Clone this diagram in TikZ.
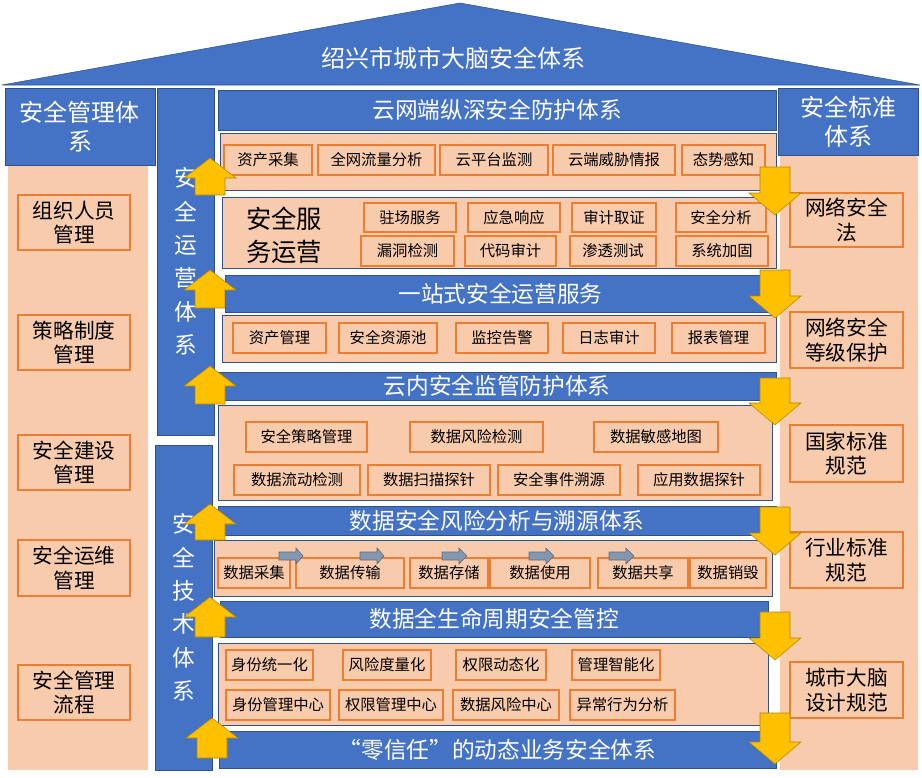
\documentclass[tikz,border=0pt]{standalone}
\usepackage{fontspec}
\setmainfont{Noto Sans CJK SC}
\definecolor{bandblue}{HTML}{4472C4}
\definecolor{panelsalmon}{HTML}{F8CBAD}
\definecolor{itemorange}{HTML}{ED7D31}
\definecolor{arrowyellow}{HTML}{FFC000}
\definecolor{flowgray}{HTML}{8497B0}
\tikzset{
  band/.style={draw=bandblue!70!black, fill=bandblue, text=white, font=\fontsize{17}{20}\selectfont},
  panel/.style={draw=bandblue!70!black, fill=panelsalmon},
  sidepanel/.style={fill=panelsalmon},
  item/.style={draw=itemorange, thick, fill=panelsalmon, font=\fontsize{11.5}{13}\selectfont},
  sideitem/.style={draw=itemorange, thick, fill=panelsalmon, font=\fontsize{15.5}{18.5}\selectfont, align=center},
  bigarrow/.style={draw=arrowyellow!70!black, fill=arrowyellow},
  flowarrow/.style={draw=flowgray!70!black, fill=flowgray}
}
% yellow block arrows: x centre, tip y, base y
\newcommand{\yup}[3]{\draw[bigarrow] (#1-15,#3) -- (#1-15,#2+20) -- (#1-26,#2+20) -- (#1,#2) -- (#1+26,#2+20) -- (#1+15,#2+20) -- (#1+15,#3) -- cycle;}
\newcommand{\ydown}[3]{\draw[bigarrow] (#1-15,#3) -- (#1-15,#2-22) -- (#1-26,#2-22) -- (#1,#2) -- (#1+26,#2-22) -- (#1+15,#2-22) -- (#1+15,#3) -- cycle;}
\newcommand{\gflow}[2]{\draw[flowarrow] (#1,552) -- (#1+17,552) -- (#1+17,548) -- (#2,556) -- (#1+17,564) -- (#1+17,560) -- (#1,560) -- cycle;}
\begin{document}
\begin{tikzpicture}[x=0.75pt,y=-0.75pt]
  \useasboundingbox (0,0) rectangle (922,778);

  % roof
  \draw[band] (2,85) -- (460,3) -- (920,85) -- cycle;
  \node[text=white, font=\fontsize{18}{21}\selectfont] (roof) at (453,58) {绍兴市城市大脑安全体系};

  % left column
  \fill[sidepanel] (8,165) rectangle (148,770);
  \draw[band] (5,88) rectangle (155,165) node[pos=.5, align=center, font=\fontsize{18}{22}\selectfont] (mgmt) {安全管理体\\系};
  \draw[sideitem] (18,195) rectangle (130,250) node[pos=.5] (m1) {组织人员\\管理};
  \draw[sideitem] (18,315) rectangle (130,370) node[pos=.5] (m2) {策略制度\\管理};
  \draw[sideitem] (18,435) rectangle (130,490) node[pos=.5] (m3) {安全建设\\管理};
  \draw[sideitem] (18,540) rectangle (130,596) node[pos=.5] (m4) {安全运维\\管理};
  \draw[sideitem] (18,665) rectangle (130,720) node[pos=.5] (m5) {安全管理\\流程};

  % right column
  \fill[sidepanel] (780,155) rectangle (918,770);
  \draw[band] (778,88) rectangle (918,155) node[pos=.5, align=center, font=\fontsize{18}{22}\selectfont] (std) {安全标准\\体系};
  \draw[sideitem] (790,193) rectangle (903,247) node[pos=.5] (s1) {网络安全\\法};
  \draw[sideitem] (790,312) rectangle (903,368) node[pos=.5] (s2) {网络安全\\等级保护};
  \draw[sideitem] (790,425) rectangle (903,482) node[pos=.5] (s3) {国家标准\\规范};
  \draw[sideitem] (790,532) rectangle (903,588) node[pos=.5] (s4) {行业标准\\规范};
  \draw[sideitem] (790,662) rectangle (903,718) node[pos=.5] (s5) {城市大脑\\设计规范};

  % vertical bands
  \draw[band] (157,88) rectangle (214,435) node[pos=.5, align=center, font=\fontsize{17}{25}\selectfont] (ops) {安\\全\\运\\营\\体\\系};
  \draw[band] (155,445) rectangle (212,770) node[pos=.5, align=center, font=\fontsize{17}{25}\selectfont] (tech) {安\\全\\技\\术\\体\\系};

  % cloud-network-edge
  \draw[band] (218,90) rectangle (776,130) node[pos=.5] (b1) {云网端纵深安全防护体系};
  \draw[panel] (220,133) rectangle (776,190);
  \draw[item] (224,145) rectangle (312,175) node[pos=.5] {资产采集};
  \draw[item] (318,145) rectangle (435,175) node[pos=.5] {全网流量分析};
  \draw[item] (440,145) rectangle (548,175) node[pos=.5] {云平台监测};
  \draw[item] (553,145) rectangle (675,175) node[pos=.5] {云端威胁情报};
  \draw[item] (682,145) rectangle (765,175) node[pos=.5] {态势感知};

  \draw[panel] (222,197) rectangle (776,268);
  \node[font=\fontsize{19}{25}\selectfont, align=left] (svc) at (284,235) {安全服\\务运营};
  \draw[item] (364,203) rectangle (456,232) node[pos=.5] {驻场服务};
  \draw[item] (468,203) rectangle (560,232) node[pos=.5] {应急响应};
  \draw[item] (572,203) rectangle (656,232) node[pos=.5] {审计取证};
  \draw[item] (676,203) rectangle (766,232) node[pos=.5] {安全分析};
  \draw[item] (361,236) rectangle (454,266) node[pos=.5] {漏洞检测};
  \draw[item] (465,236) rectangle (556,266) node[pos=.5] {代码审计};
  \draw[item] (570,236) rectangle (656,266) node[pos=.5] {渗透测试};
  \draw[item] (676,236) rectangle (768,266) node[pos=.5] {系统加固};

  % one-stop operations
  \draw[band] (225,275) rectangle (776,312) node[pos=.5] (b2) {一站式安全运营服务};
  \draw[panel] (222,315) rectangle (776,362);
  \draw[item] (233,323) rectangle (326,353) node[pos=.5] {资产管理};
  \draw[item] (339,323) rectangle (437,353) node[pos=.5] {安全资源池};
  \draw[item] (456,323) rectangle (548,353) node[pos=.5] {监控告警};
  \draw[item] (563,323) rectangle (655,353) node[pos=.5] {日志审计};
  \draw[item] (672,323) rectangle (765,353) node[pos=.5] {报表管理};

  % in-cloud supervision
  \draw[band] (218,372) rectangle (776,400) node[pos=.5] (b3) {云内安全监管防护体系};
  \draw[panel] (218,405) rectangle (772,500);
  \draw[item] (246,422) rectangle (367,452) node[pos=.5] {安全策略管理};
  \draw[item] (410,422) rectangle (543,452) node[pos=.5] {数据风险检测};
  \draw[item] (594,422) rectangle (718,452) node[pos=.5] {数据敏感地图};
  \draw[item] (234,465) rectangle (360,495) node[pos=.5] {数据流动检测};
  \draw[item] (368,465) rectangle (490,495) node[pos=.5] {数据扫描探针};
  \draw[item] (498,465) rectangle (620,495) node[pos=.5] {安全事件溯源};
  \draw[item] (638,465) rectangle (760,495) node[pos=.5] {应用数据探针};

  % data risk analysis
  \draw[band] (218,506) rectangle (776,535) node[pos=.5] (b4) {数据安全风险分析与溯源体系};
  \draw[panel] (214,540) rectangle (772,596);
  \draw[item] (218,558) rectangle (290,588) node[pos=.5] (d1) {数据采集};
  \draw[item] (296,558) rectangle (404,588) node[pos=.5] (d2) {数据传输};
  \draw[item] (410,558) rectangle (488,588) node[pos=.5] (d3) {数据存储};
  \draw[item] (490,558) rectangle (590,588) node[pos=.5] (d4) {数据使用};
  \draw[item] (598,558) rectangle (688,588) node[pos=.5] (d5) {数据共享};
  \draw[item] (690,558) rectangle (766,588) node[pos=.5] (d6) {数据销毁};
  \gflow{279}{303}
  \gflow{360}{384}
  \gflow{442}{467}
  \gflow{529}{554}
  \gflow{609}{634}

  % data lifecycle
  \draw[band] (220,601) rectangle (768,637) node[pos=.5] (b5) {数据全生命周期安全管控};
  \draw[panel] (218,643) rectangle (768,725);
  \draw[item] (226,650) rectangle (313,680) node[pos=.5] {身份统一化};
  \draw[item] (343,650) rectangle (431,680) node[pos=.5] {风险度量化};
  \draw[item] (456,650) rectangle (546,680) node[pos=.5] {权限动态化};
  \draw[item] (572,650) rectangle (660,680) node[pos=.5] {管理智能化};
  \draw[item] (226,690) rectangle (330,720) node[pos=.5] {身份管理中心};
  \draw[item] (339,690) rectangle (443,720) node[pos=.5] {权限管理中心};
  \draw[item] (453,690) rectangle (559,720) node[pos=.5] {数据风险中心};
  \draw[item] (570,690) rectangle (675,720) node[pos=.5] {异常行为分析};

  % zero trust
  \draw[band] (219,731) rectangle (776,768) node[pos=.5] (b6) {“零信任”的动态业务安全体系};

  % yellow arrows
  \yup{210}{158}{195}
  \yup{210}{270}{308}
  \yup{210}{366}{404}
  \yup{210}{504}{540}
  \yup{210}{597}{637}
  \yup{212}{718}{758}
  \ydown{775}{215}{167}
  \ydown{775}{318}{270}
  \ydown{775}{425}{378}
  \ydown{775}{555}{507}
  \ydown{775}{660}{612}
  \ydown{775}{764}{713}
\end{tikzpicture}
\end{document}
